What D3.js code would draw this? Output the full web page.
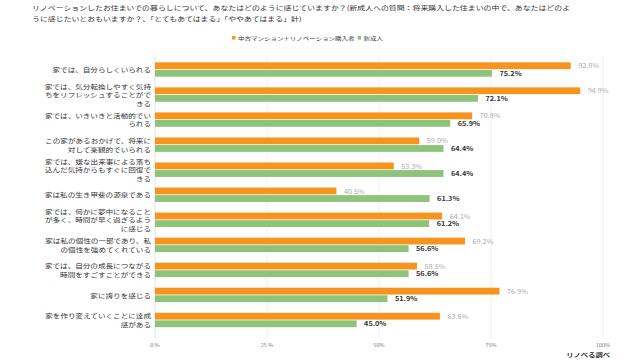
<!DOCTYPE html>
<html>
<head>
<meta charset="utf-8">
<script src="https://cdn.jsdelivr.net/npm/d3@7"></script>
<style>
  body { margin: 0; background: #fff; }
  svg { display: block; font-family: "Noto Sans CJK JP", "Noto Sans", sans-serif; }
</style>
</head>
<body>
<div id="chart"></div>
<script>
// Data
const titleLines = [
  'リノベーションしたお住まいでの暮らしについて、あなたはどのように感じていますか？(新成人への質問：将来購入した住まいの中で、あなたはどのよ',
  'うに感じたいとおもいますか？、「とてもあてはまる」「ややあてはまる」計)'
];
const seriesNames = ['中古マンション＋リノベーション購入者', '新成人'];
const categories = [
  ['家では、自分らしくいられる'],
  ['家では、気分転換しやすく気持', 'ちをリフレッシュすることがで', 'きる'],
  ['家では、いきいきと活動的でい', 'られる'],
  ['この家があるおかげで、将来に', '対して楽観的でいられる'],
  ['家では、嫌な出来事による落ち', '込んだ気持からもすぐに回復で', 'きる'],
  ['家は私の生き甲斐の源泉である'],
  ['家では、何かに夢中になること', 'が多く、時間が早く過ぎるよう', 'に感じる'],
  ['家は私の個性の一部であり、私', 'の個性を強めてくれている'],
  ['家では、自分の成長につながる', '時間をすごすことができる'],
  ['家に誇りを感じる'],
  ['家を作り変えていくことに達成', '感がある']
];
const buyers = [92.8, 94.9, 70.8, 59.0, 53.3, 40.5, 64.1, 69.2, 58.5, 76.9, 63.6];
const youth = [75.2, 72.1, 65.9, 64.4, 64.4, 61.3, 61.2, 56.6, 56.6, 51.9, 45.0];
const tickValues = [0, 25, 50, 75, 100];
const tickLabels = ['0 %', '25 %', '50%', '75%', '100%'];
const sourceText = 'リノべる調べ';

// Layout
const width = 640, height = 360;
const colors = ['#f7941d', '#8dc47a'];
const sy = 0.78; // glyphs in the reference are squashed vertically

const svg = d3.select('#chart').append('svg')
  .attr('width', width).attr('height', height);

const x = d3.scaleLinear().domain([0, 100]).range([155, 603]);
const y = d3.scaleBand().domain(d3.range(categories.length)).range([57, 332.5]);
const ySub = d3.scaleBand().domain([0, 1])
  .range([y.bandwidth() / 2 - 7.2, y.bandwidth() / 2 + 7.2])
  .paddingInner(0.1);

function label(g, tx, ty, str, size, opts = {}) {
  return g.append('text')
    .attr('transform', `translate(${tx},${ty}) scale(1,${sy})`)
    .attr('text-anchor', opts.anchor || 'start')
    .attr('dominant-baseline', 'central')
    .attr('font-size', size)
    .attr('font-weight', opts.weight || 'normal')
    .attr('fill', opts.fill || '#333')
    .text(str);
}

// Title
titleLines.forEach((t, i) => label(svg, 32, 7.5 + i * 10.5, t, 7.9, { fill: '#333' }));

// Legend
const legend = svg.append('g');
let lx = 232;
seriesNames.forEach((n, i) => {
  legend.append('rect').attr('x', lx).attr('y', 36).attr('width', 3.5).attr('height', 3.5).attr('fill', colors[i]);
  const t = label(legend, lx + 6, 38, n, 6.5, { fill: '#333' });
  lx += 6 + t.node().getComputedTextLength() + 3;
});

// Grid lines
svg.append('g').selectAll('line').data(tickValues).join('line')
  .attr('x1', d => x(d)).attr('x2', d => x(d))
  .attr('y1', 55).attr('y2', 338)
  .attr('stroke', d => d === 0 ? '#d8d8d8' : '#ececec')
  .attr('stroke-width', 0.8);

// Axis labels
tickValues.forEach((v, i) => label(svg, x(v), 345, tickLabels[i], 5.6, { anchor: 'middle', fill: '#777' }));

// Category labels
categories.forEach((lines, i) => {
  const cy = y(i) + y.bandwidth() / 2;
  const lh = 8.5;
  lines.forEach((ln, j) => {
    label(svg, 151, cy + (j - (lines.length - 1) / 2) * lh, ln, 7.6, { anchor: 'end', fill: '#333' });
  });
});

// Bars
const seriesData = [buyers, youth];
seriesData.forEach((vals, s) => {
  const g = svg.append('g');
  g.selectAll('rect').data(vals).join('rect')
    .attr('x', x(0))
    .attr('y', (d, i) => y(i) + ySub(s))
    .attr('width', d => x(d) - x(0))
    .attr('height', ySub.bandwidth())
    .attr('fill', colors[s]);
  vals.forEach((d, i) => {
    label(g, x(d) + 7.5, y(i) + ySub(s) + ySub.bandwidth() / 2, d.toFixed(1) + '%', 7.3,
      s === 0 ? { fill: '#aaaaaa' } : { fill: '#333', weight: 'bold' });
  });
});

// Source
label(svg, 610, 354, sourceText, 7.3, { anchor: 'end', weight: 'bold', fill: '#333' });
</script>
</body>
</html>
